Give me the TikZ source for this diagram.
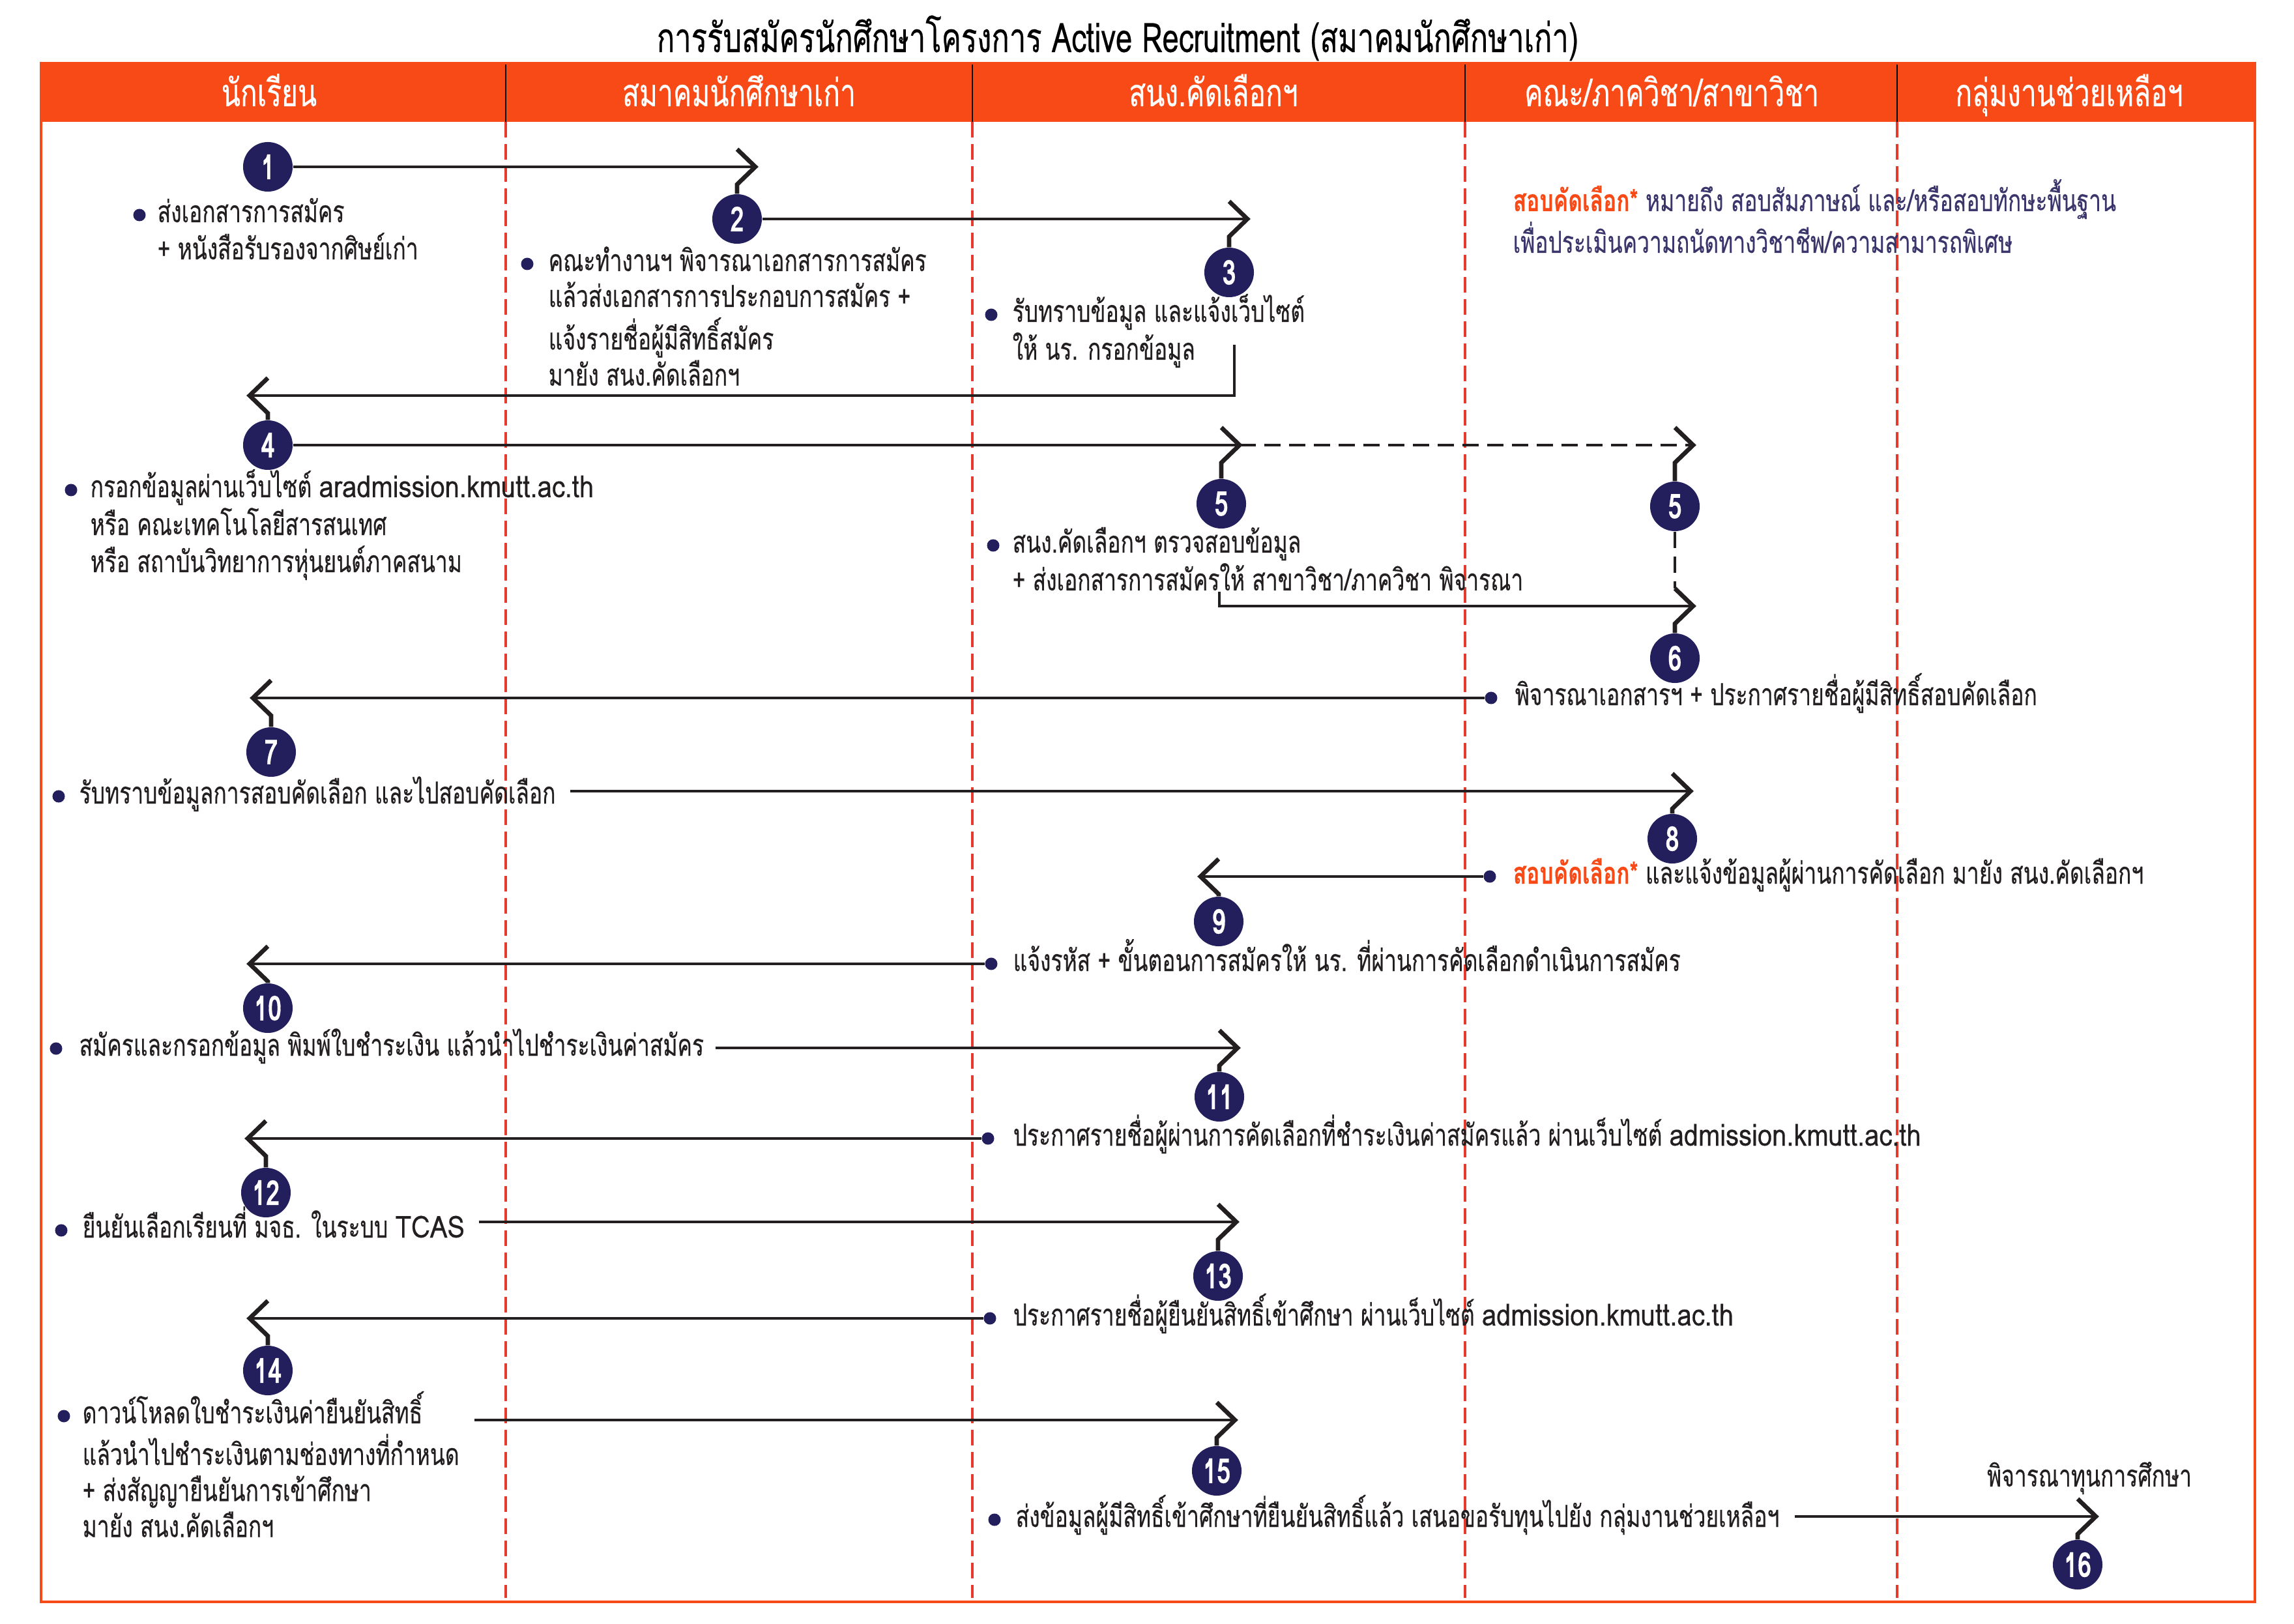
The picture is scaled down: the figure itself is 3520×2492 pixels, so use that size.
\documentclass[tikz,border=0pt]{standalone}
\usepackage{fontspec}
\setmainfont{Loma}[Script=Thai, FakeStretch=0.724, FakeBold=0.35]
\newfontfamily\latfont{Loma}[FakeStretch=0.86, FakeBold=0.35]
\usetikzlibrary{calc}

\definecolor{hdrorange}{HTML}{F84A17}
\definecolor{lanered}{HTML}{E53B2E}
\definecolor{stepnavy}{HTML}{231E5C}
\definecolor{notenavy}{HTML}{3A366B}
\definecolor{flowblack}{HTML}{231F20}

\newcommand\bodyfont{\fontsize{13.2}{15.4}\selectfont}
\newcommand\lat[1]{{\latfont #1}}
\newcommand\txtlines[1]{\begin{tabular}[t]{@{}l@{}}#1\end{tabular}}
% chevron tips with stem down to the step circle
\newcommand\chevR[2]{\draw[chev] ([shift={(0,-27)}]#1 |- #2) -- ([shift={(28,0)}]#1 |- #2) -- ([shift={(0,27)}]#1 |- #2) -- (#1.north);}
\newcommand\chevL[2]{\draw[chev] ([shift={(0,-27)}]#1 |- #2) -- ([shift={(-28,0)}]#1 |- #2) -- ([shift={(0,27)}]#1 |- #2) -- (#1.north);}

\tikzset{
  flow/.style={draw=flowblack, line width=1.4pt},
  chev/.style={draw=flowblack, line width=1.9pt, line join=miter},
  dashflow/.style={flow, dash pattern=on 0.25cm off 0.13cm},
  lane/.style={draw=lanered, line width=0.9pt, dash pattern=on 0.24cm off 0.1cm},
  num/.style={circle, fill=stepnavy, text=white, minimum size=0.76cm, inner sep=0pt, font=\fontsize{15}{15}\selectfont\bfseries},
  dot/.style={circle, fill=stepnavy, minimum size=0.19cm, inner sep=0pt},
  txt/.style={anchor=base west, inner sep=0pt, yshift=-0.11cm, font=\bodyfont, text=flowblack},
  hdr/.style={anchor=base, inner sep=0pt, text=white, font=\fontsize{16.7}{16.7}\selectfont},
}

\begin{document}
\begin{tikzpicture}[x=0.01cm, y=-0.01cm]
  \useasboundingbox (0,0) rectangle (3520,2492);

  % title
  \node[anchor=base, inner sep=0pt, font=\fontsize{17.8}{17.8}\selectfont] (title) at (1715,80)
    {การรับสมัครนักศึกษาโครงการ Active Recruitment (สมาคมนักศึกษาเก่า)};

  % lanes
  \fill[hdrorange] (63,97) rectangle (3460,187);
  \foreach \x in {776,1492,2248,2911} {
    \draw[black, line width=0.7pt] (\x,97) -- (\x,187);
    \draw[lane] (\x,187) -- (\x,2452);
  }
  \draw[hdrorange, line width=1.3pt] (63,97) rectangle (3460,2458);

  \node[hdr] (h1) at (413,163) {นักเรียน};
  \node[hdr] (h2) at (1134,163) {สมาคมนักศึกษาเก่า};
  \node[hdr] (h3) at (1862,163) {สนง.คัดเลือกฯ};
  \node[hdr] (h4) at (2565,163) {คณะ/ภาควิชา/สาขาวิชา};
  \node[hdr] (h5) at (3175,163) {กลุ่มงานช่วยเหลือฯ};

  % note
  \node[txt, text=notenavy] (note) at (2321,313)
    {\txtlines{{\color{hdrorange}\bfseries สอบคัดเลือก*} หมายถึง สอบสัมภาษณ์ และ/หรือสอบทักษะพื้นฐาน\\
      เพื่อประเมินความถนัดทางวิชาชีพ/ความสามารถพิเศษ}};

  % steps
  \node[num] (c1) at (411,256) {1};
  \node[num] (c2) at (1131,336) {2};
  \node[num] (c3) at (1886,418) {3};
  \node[num] (c4) at (411,683) {4};
  \node[num] (c5) at (1874,773) {5};
  \node[num] (c5b) at (2570,777) {5};
  \node[num] (c6) at (2570,1010) {6};
  \node[num] (c7) at (416,1154) {7};
  \node[num] (c8) at (2566,1287) {8};
  \node[num] (c9) at (1870,1414) {9};
  \node[num] (c10) at (411,1547) {10};
  \node[num] (c11) at (1871,1683) {11};
  \node[num] (c12) at (408,1830) {12};
  \node[num] (c13) at (1869,1958) {13};
  \node[num] (c14) at (411,2103) {14};
  \node[num] (c15) at (1867,2257) {15};
  \node[num] (c16) at (3188,2401) {16};

  % texts
  \node[dot] (b1) at (214,330) {};
  \node[txt] (t1) at (241,330) {\txtlines{ส่งเอกสารการสมัคร\\+ หนังสือรับรองจากศิษย์เก่า}};
  \node[dot] (b2) at (809,405) {};
  \node[txt] (t2) at (841,405) {\txtlines{คณะทำงานฯ พิจารณาเอกสารการสมัคร\\แล้วส่งเอกสารการประกอบการสมัคร +\\แจ้งรายชื่อผู้มีสิทธิ์สมัคร\\มายัง สนง.คัดเลือกฯ}};
  \node[dot] (b3) at (1521,483) {};
  \node[txt] (t3) at (1553,483) {\txtlines{รับทราบข้อมูล และแจ้งเว็บไซต์\\ให้ นร. กรอกข้อมูล}};
  \node[dot] (b4) at (109,752) {};
  \node[txt] (t4) at (138,752) {\txtlines{กรอกข้อมูลผ่านเว็บไซต์ \lat{aradmission.kmutt.ac.th}\\หรือ คณะเทคโนโลยีสารสนเทศ\\หรือ สถาบันวิทยาการหุ่นยนต์ภาคสนาม}};
  \node[dot] (b5) at (1524,837) {};
  \node[txt] (t5) at (1553,837) {\txtlines{สนง.คัดเลือกฯ ตรวจสอบข้อมูล\\+ ส่งเอกสารการสมัครให้ สาขาวิชา/ภาควิชา พิจารณา}};
  \node[dot] (b6) at (2288,1071) {};
  \node[txt] (t6) at (2324,1071) {พิจารณาเอกสารฯ + ประกาศรายชื่อผู้มีสิทธิ์สอบคัดเลือก};
  \node[dot] (b7) at (90,1222) {};
  \node[txt] (t7) at (121,1222) {รับทราบข้อมูลการสอบคัดเลือก และไปสอบคัดเลือก};
  \node[dot] (b8) at (2286,1345) {};
  \node[txt] (t8) at (2321,1345) {{\color{hdrorange}\bfseries สอบคัดเลือก*} และแจ้งข้อมูลผู้ผ่านการคัดเลือก มายัง สนง.คัดเลือกฯ};
  \node[dot] (b9) at (1521,1479) {};
  \node[txt] (t9) at (1554,1479) {แจ้งรหัส + ขั้นตอนการสมัครให้ นร. ที่ผ่านการคัดเลือกดำเนินการสมัคร};
  \node[dot] (b10) at (86,1609) {};
  \node[txt] (t10) at (121,1609) {สมัครและกรอกข้อมูล พิมพ์ใบชำระเงิน แล้วนำไปชำระเงินค่าสมัคร};
  \node[dot] (b11) at (1516,1747) {};
  \node[txt] (t11) at (1554,1747) {ประกาศรายชื่อผู้ผ่านการคัดเลือกที่ชำระเงินค่าสมัครแล้ว ผ่านเว็บไซต์ \lat{admission.kmutt.ac.th}};
  \node[dot] (b12) at (94,1888) {};
  \node[txt] (t12) at (126,1888) {ยืนยันเลือกเรียนที่ มจธ. ในระบบ \lat{TCAS}};
  \node[dot] (b13) at (1519,2023) {};
  \node[txt] (t13) at (1554,2023) {ประกาศรายชื่อผู้ยืนยันสิทธิ์เข้าศึกษา ผ่านเว็บไซต์ \lat{admission.kmutt.ac.th}};
  \node[dot] (b14) at (98,2173) {};
  \node[txt] (t14) at (126,2173) {\txtlines{ดาวน์โหลดใบชำระเงินค่ายืนยันสิทธิ์\\แล้วนำไปชำระเงินตามช่องทางที่กำหนด\\+ ส่งสัญญายืนยันการเข้าศึกษา\\มายัง สนง.คัดเลือกฯ}};
  \node[dot] (b15) at (1526,2332) {};
  \node[txt] (t15) at (1558,2332) {ส่งข้อมูลผู้มีสิทธิ์เข้าศึกษาที่ยืนยันสิทธิ์แล้ว เสนอขอรับทุนไปยัง กลุ่มงานช่วยเหลือฯ};
  \node[txt, anchor=base] (t16) at (3206,2270) {พิจารณาทุนการศึกษา};

  % connectors
  \draw[flow] (c1.east) -- ([shift={(28,0)}]c2 |- c1);
  \chevR{c2}{c1}
  \draw[flow] (c2.east) -- ([shift={(28,0)}]c3 |- c2);
  \chevR{c3}{c2}
  \coordinate (k3) at (1894,529);
  \coordinate (k3b) at (1894,607);
  \draw[flow] (k3) -- (k3b) -- ([shift={(-28,0)}]c4 |- k3b);
  \chevL{c4}{k3b}
  \draw[flow] (c4.east) -- ([shift={(28,0)}]c5 |- c4);
  \chevR{c5}{c4}
  \draw[dashflow] ([shift={(28,0)}]c5 |- c4) -- ([shift={(28,0)}]c5b |- c4);
  \chevR{c5b}{c4}
  \coordinate (k5) at (1871,908);
  \coordinate (k5b) at (1871,930);
  \draw[flow] (k5) -- (k5b) -- ([shift={(28,0)}]c6 |- k5b);
  \draw[dashflow] (c5b.south) -- ([shift={(0,-27)}]c6 |- k5b);
  \chevR{c6}{k5b}
  \draw[flow] (b6.west) -- ([shift={(-28,0)}]c7 |- b6);
  \chevL{c7}{b6}
  \coordinate (s7) at ([shift={(22,-19)}]t7.base east);
  \draw[flow] (s7) -- ([shift={(28,0)}]c8 |- s7);
  \chevR{c8}{s7}
  \draw[flow] (b8.west) -- ([shift={(-28,0)}]c9 |- b8);
  \chevL{c9}{b8}
  \draw[flow] (b9.west) -- ([shift={(-28,0)}]c10 |- b9);
  \chevL{c10}{b9}
  \coordinate (s10) at ([shift={(17,-12)}]t10.base east);
  \draw[flow] (s10) -- ([shift={(28,0)}]c11 |- s10);
  \chevR{c11}{s10}
  \draw[flow] (b11.west) -- ([shift={(-28,0)}]c12 |- b11);
  \chevL{c12}{b11}
  \coordinate (s12) at ([shift={(21,-24)}]t12.base east);
  \draw[flow] (s12) -- ([shift={(28,0)}]c13 |- s12);
  \chevR{c13}{s12}
  \draw[flow] (b13.west) -- ([shift={(-28,0)}]c14 |- b13);
  \chevL{c14}{b13}
  \coordinate (s14) at ([shift={(23,-5)}]t14.base east);
  \draw[flow] (s14) -- ([shift={(28,0)}]c15 |- s14);
  \chevR{c15}{s14}
  \coordinate (s15) at ([shift={(23,-16)}]t15.base east);
  \draw[flow] (s15) -- ([shift={(28,0)}]c16 |- s15);
  \chevR{c16}{s15}
\end{tikzpicture}
\end{document}
